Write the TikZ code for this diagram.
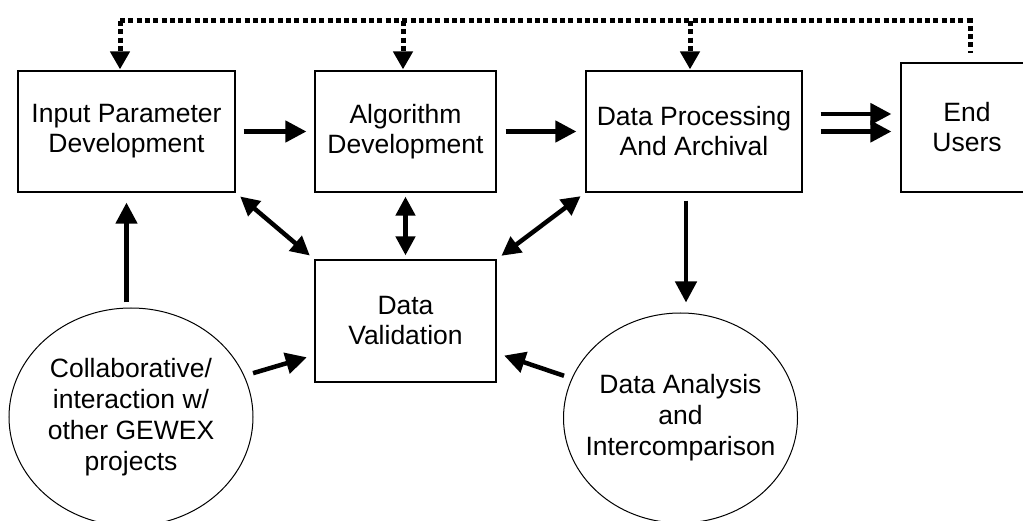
\documentclass[tikz,border=0pt]{standalone}
\usepackage{fontspec}
\setmainfont{Liberation Sans}
\usetikzlibrary{arrows.meta}
\usetikzlibrary{shapes.geometric}

\begin{document}
\begin{tikzpicture}[x=1pt, y=-1pt,
    box/.style={draw, line width=1.2pt, align=center, inner sep=0pt,
        font=\fontsize{26.5}{30}\selectfont},
    blob/.style={draw, ellipse, line width=1pt, align=center, inner sep=0pt,
        font=\fontsize{26.5}{31}\selectfont},
    arr/.style={line width=4.5pt, -{Triangle[length=21pt, width=21pt]}},
    dblarr/.style={line width=4.5pt, {Triangle[length=19pt, width=19pt]}-{Triangle[length=19pt, width=19pt]}},
    fb/.style={line width=5pt, dash pattern=on 5pt off 3.3pt},
    fbarr/.style={fb, -{Triangle[length=18pt, width=19pt]}}]
    \useasboundingbox (0, 0) rectangle (1023, 521);
    \clip (0, 0) rectangle (1023, 521);

    \node[box, minimum width=217pt, minimum height=121pt] (input) at (126.5, 131.5) {Input Parameter\\Development};
    \node[box, minimum width=181pt, minimum height=121pt] (algo) at (405.5, 131.5) {Algorithm\\Development};
    \node[box, minimum width=216pt, minimum height=121pt] (proc) at (694, 131.5) {Data Processing\\And Archival};
    \node[box, minimum width=132pt, minimum height=129pt] (users) at (967, 127.5) {End\\Users};
    \node[box, minimum width=181pt, minimum height=122pt] (valid) at (405.5, 321) {Data\\Validation};
    \node[blob, minimum width=244pt, minimum height=218pt] (collab) at (131, 417) {Collaborative/\\interaction w/\\other GEWEX\\projects};
    \node[blob, minimum width=234pt, minimum height=210pt, inner xsep=-13pt] (anal) at (680.5, 418) {Data Analysis\\and\\Intercomparison};

    % main flow
    \draw[arr, shorten <=8pt, shorten >=8pt] (input) -- (algo);
    \draw[arr, shorten <=9pt, shorten >=9pt] (algo) -- (proc);
    \draw[arr, shorten <=18pt, shorten >=9pt] ([yshift=17.5pt]proc.east) -- ([yshift=17.5pt]users.west |- proc.east);
    \draw[arr, shorten <=18pt, shorten >=9pt] (proc.east) -- (users.west |- proc.east);

    % validation links
    \draw[dblarr, shorten <=6pt, shorten >=6pt] (input.south east) -- (valid.north west);
    \draw[dblarr, shorten <=4pt, shorten >=4pt] (algo.south) -- (valid.north);
    \draw[dblarr, shorten <=6pt, shorten >=6pt] (proc.south west) -- (valid.north east);
    \draw[arr, shorten <=5pt, shorten >=10pt] (collab.north -| input.south) -- (input.south);
    \draw[arr, shorten <=9pt, shorten >=8pt] (collab.20) -- ([yshift=-34pt]valid.west);
    \draw[arr, shorten <=8pt, shorten >=8pt] (anal.160) -- ([yshift=-32pt]valid.east);
    \draw[arr, shorten <=8pt, shorten >=10pt] ([xshift=-8pt]proc.south) -- ([xshift=-8pt]proc.south |- anal.north);

    % feedback line
    \coordinate (fbl) at (120, 21);
    \coordinate (fbr) at (970, 21);
    \coordinate (fbend) at (970, 53);
    \coordinate (dropalgo) at (403, 21);
    \coordinate (dropproc) at (690, 21);
    \draw[fb] (fbl) -- (fbr) -- (fbend);
    \draw[fbarr, shorten >=1pt] (fbl) -- (fbl |- input.north);
    \draw[fbarr, shorten >=1pt] (dropalgo) -- (dropalgo |- algo.north);
    \draw[fbarr, shorten >=1pt] (dropproc) -- (dropproc |- proc.north);
\end{tikzpicture}
\end{document}
